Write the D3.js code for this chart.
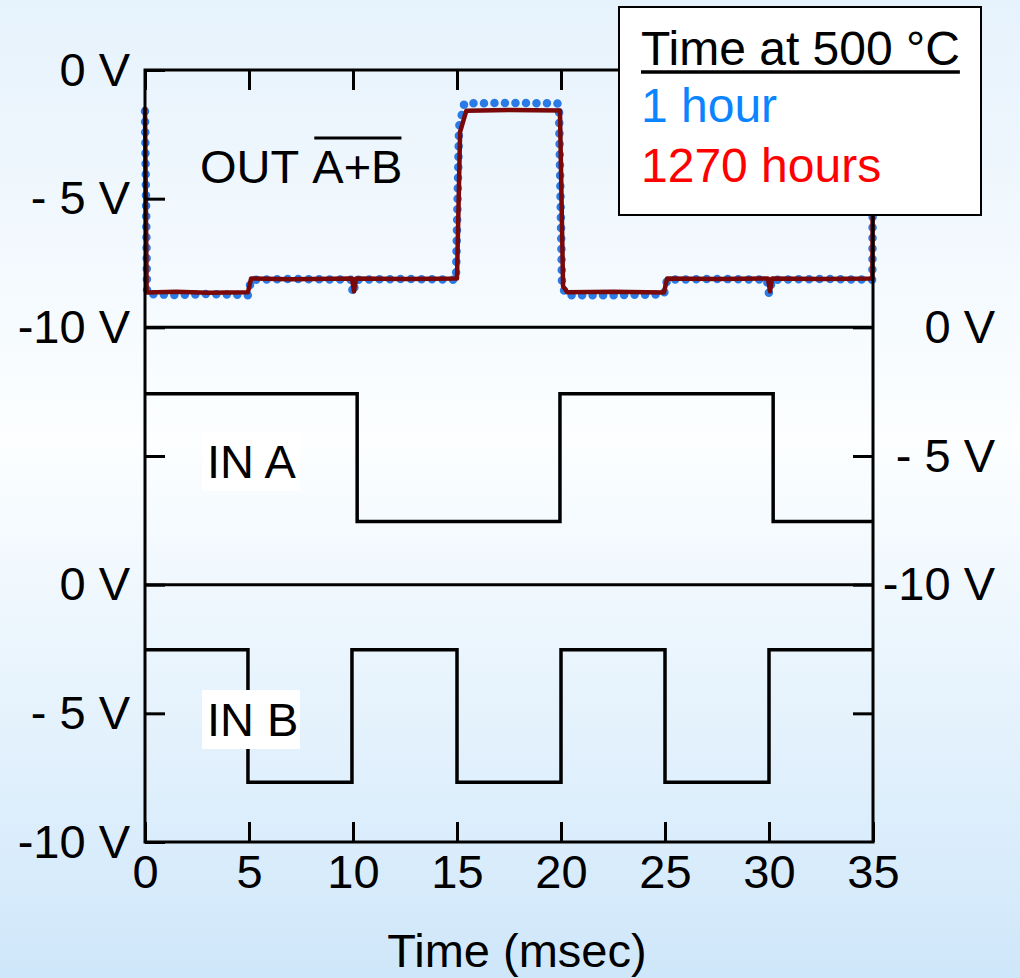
<!DOCTYPE html>
<html>
<head>
<meta charset="utf-8">
<script src="https://cdn.jsdelivr.net/npm/d3@7"></script>
<style>
  html, body { margin: 0; padding: 0; }
  svg { display: block; }
  text { font-family: "Liberation Sans", Arial, sans-serif; }
</style>
</head>
<body>
<div id="container"></div>
<script>
// time axis ticks (msec) and the y tick labels used on every panel
var timeTicks = [0, 5, 10, 15, 20, 25, 30, 35];
var voltTicks = [0, -5, -10];
var voltLabels = ["0 V", "- 5 V", "-10 V"];

// OUT (A+B inverted) after 1 hour at 500 C  [msec, volts]
var out1h = [
  [0, -1.6], [0.1, -8.7], [1.5, -8.75], [3, -8.7], [4.95, -8.75],
  [5.1, -8.15], [7, -8.12], [9.9, -8.15], [10.0, -8.7], [10.15, -8.15],
  [12.5, -8.12], [14.95, -8.15], [15.1, -2.2], [15.35, -1.3], [17.5, -1.28],
  [19.9, -1.3], [20.05, -8.4], [20.25, -8.75], [22.5, -8.75], [24.95, -8.72],
  [25.1, -8.15], [27.5, -8.12], [29.9, -8.15], [30.0, -8.7], [30.15, -8.15],
  [32.5, -8.12], [34.97, -8.15], [35, -1.5]
];

// OUT after 1270 hours at 500 C
var out1270h = [
  [0, -1.45], [0.08, -8.65], [1.5, -8.62], [3, -8.66], [4.95, -8.64],
  [5.1, -8.1], [7, -8.13], [9.95, -8.1], [10.05, -8.6], [10.15, -8.1],
  [12.5, -8.12], [15.0, -8.1], [15.15, -2.4], [15.45, -1.58], [17.5, -1.55],
  [19.95, -1.57], [20.1, -8.4], [20.3, -8.64], [22.5, -8.62], [24.95, -8.65],
  [25.1, -8.1], [27.5, -8.12], [29.95, -8.1], [30.05, -8.6], [30.15, -8.1],
  [32.5, -8.12], [34.97, -8.1], [35, -1.5]
];

// inputs
var inA = [
  [0, -2.58], [10.2, -2.58], [10.2, -7.55], [19.95, -7.55], [19.95, -2.58],
  [30.2, -2.58], [30.2, -7.55], [35, -7.55]
];
var inB = [
  [0, -2.53], [4.95, -2.53], [4.95, -7.68], [9.95, -7.68], [9.95, -2.53],
  [15.0, -2.53], [15.0, -7.68], [20.0, -7.68], [20.0, -2.53], [25.0, -2.53],
  [25.0, -7.68], [30.0, -7.68], [30.0, -2.53], [35, -2.53]
];

var width = 1020, height = 978;
var plotL = 145, plotR = 873, plotT = 70, plotB = 842;
var panelH = (plotB - plotT) / 3;
var fontSize = 47;

var svg = d3.select("#container").append("svg")
    .attr("width", width)
    .attr("height", height);

// background gradient
var grad = svg.append("defs").append("linearGradient")
    .attr("id", "bg").attr("x1", 0).attr("y1", 0).attr("x2", 0).attr("y2", 1);
grad.append("stop").attr("offset", "0%").attr("stop-color", "#e6f2fc");
grad.append("stop").attr("offset", "45%").attr("stop-color", "#fcfeff");
grad.append("stop").attr("offset", "100%").attr("stop-color", "#cfe7fa");
svg.append("rect").attr("width", width).attr("height", height).attr("fill", "url(#bg)");

var x = d3.scaleLinear().domain([0, 35]).range([plotL, plotR]);

// one y scale per panel
var yPanels = [0, 1, 2].map(function (i) {
  return d3.scaleLinear().domain([0, -10]).range([plotT + i * panelH, plotT + (i + 1) * panelH]);
});

var line = function (y) {
  return d3.line().x(function (d) { return x(d[0]); }).y(function (d) { return y(d[1]); });
};

// traces
svg.append("path").datum(out1h)
    .attr("d", line(yPanels[0]))
    .attr("fill", "none").attr("stroke", "#2a7be6")
    .attr("stroke-width", 8.5).attr("stroke-linecap", "round")
    .attr("stroke-dasharray", "0 10.5");
svg.append("path").datum(out1270h)
    .attr("d", line(yPanels[0]))
    .attr("fill", "none").attr("stroke", "#7a0808")
    .attr("stroke-width", 4.5).attr("stroke-linejoin", "round");
svg.append("path").datum(inA)
    .attr("d", line(yPanels[1]))
    .attr("fill", "none").attr("stroke", "#000").attr("stroke-width", 3.5);
svg.append("path").datum(inB)
    .attr("d", line(yPanels[2]))
    .attr("fill", "none").attr("stroke", "#000").attr("stroke-width", 3.5);

// frame and panel separators
svg.append("rect")
    .attr("x", plotL).attr("y", plotT)
    .attr("width", plotR - plotL).attr("height", plotB - plotT)
    .attr("fill", "none").attr("stroke", "#000").attr("stroke-width", 3);
[1, 2].forEach(function (i) {
  svg.append("line")
      .attr("x1", plotL).attr("x2", plotR)
      .attr("y1", yPanels[i](0)).attr("y2", yPanels[i](0))
      .attr("stroke", "#000").attr("stroke-width", 3);
});

function styleAxis(g) {
  g.select(".domain").remove();
  g.selectAll(".tick line").attr("stroke", "#000").attr("stroke-width", 3);
  g.selectAll("text").attr("fill", "#000")
      .style("font-family", "'Liberation Sans', Arial, sans-serif")
      .style("font-size", fontSize + "px");
}

// x axes
svg.append("g")
    .attr("transform", "translate(0," + plotB + ")")
    .call(d3.axisBottom(x).tickValues(timeTicks).tickSizeInner(-20).tickSizeOuter(0).tickPadding(13))
    .call(styleAxis);
svg.append("g")
    .attr("transform", "translate(0," + plotT + ")")
    .call(d3.axisTop(x).tickValues(timeTicks).tickSizeInner(-20).tickSizeOuter(0).tickFormat(""))
    .call(styleAxis);

// y axes: labels on left for panels 1 and 3, on right for panel 2
yPanels.forEach(function (y, i) {
  var leftAxis = d3.axisLeft(y).tickSizeInner(-20).tickSizeOuter(0).tickPadding(15);
  var rightAxis = d3.axisRight(y).tickSizeInner(-20).tickSizeOuter(0).tickPadding(15);
  if (i == 1) {
    leftAxis.tickValues([-5]).tickFormat("");
    rightAxis.tickValues(voltTicks).tickFormat(function (d, k) { return voltLabels[k]; });
  } else {
    leftAxis.tickValues(voltTicks).tickFormat(function (d, k) { return voltLabels[k]; });
    rightAxis.tickValues([-5]).tickFormat("");
  }
  svg.append("g").attr("transform", "translate(" + plotL + ",0)")
      .call(leftAxis).call(styleAxis);
  var gr = svg.append("g").attr("transform", "translate(" + plotR + ",0)")
      .call(rightAxis).call(styleAxis);
  gr.selectAll("text").attr("text-anchor", "end").attr("x", 122);
});

// x axis title
svg.append("text")
    .attr("x", 517).attr("y", 967)
    .attr("text-anchor", "middle")
    .style("font-size", fontSize + "px")
    .text("Time (msec)");

// panel labels
var outLabel = svg.append("text")
    .attr("x", 200).attr("y", 183)
    .style("font-size", fontSize + "px")
    .text("OUT");
var outW = outLabel.node().getComputedTextLength() + 0.278 * fontSize;
var abLabel = svg.append("text")
    .attr("x", 200 + outW).attr("y", 183)
    .style("font-size", fontSize + "px")
    .text("A+B");
var abW = abLabel.node().getComputedTextLength();
svg.append("line")
    .attr("x1", 200 + outW + 2).attr("x2", 200 + outW + abW - 1)
    .attr("y1", 138).attr("y2", 138)
    .attr("stroke", "#000").attr("stroke-width", 3);

[["IN A", 432], ["IN B", 690]].forEach(function (lab) {
  svg.append("rect")
      .attr("x", 202).attr("y", lab[1])
      .attr("width", 98).attr("height", 59)
      .attr("fill", "#fff");
  svg.append("text")
      .attr("x", 207).attr("y", lab[1] + 46)
      .style("font-size", fontSize + "px")
      .text(lab[0]);
});

// legend
var legendFont = 48;
var legend = svg.append("g");
legend.append("rect")
    .attr("x", 619).attr("y", 7)
    .attr("width", 362).attr("height", 208)
    .attr("fill", "#fff").attr("stroke", "#000").attr("stroke-width", 2);
var title = legend.append("text")
    .attr("x", 641).attr("y", 65)
    .style("font-size", legendFont + "px")
    .text("Time at 500 °C");
legend.append("line")
    .attr("x1", 641).attr("x2", 641 + title.node().getComputedTextLength())
    .attr("y1", 72).attr("y2", 72)
    .attr("stroke", "#000").attr("stroke-width", 3.5);
legend.append("text")
    .attr("x", 641).attr("y", 122)
    .attr("fill", "#0a84ff")
    .style("font-size", legendFont + "px")
    .text("1 hour");
legend.append("text")
    .attr("x", 641).attr("y", 182)
    .attr("fill", "#ff0000")
    .style("font-size", legendFont + "px")
    .text("1270 hours");
</script>
</body>
</html>
